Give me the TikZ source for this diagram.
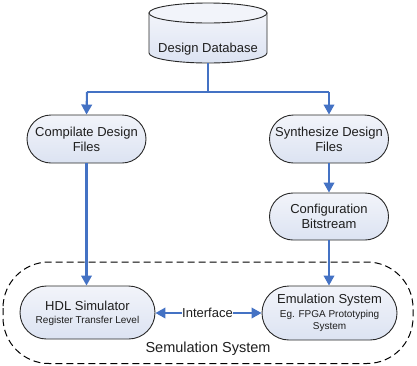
\documentclass[tikz,border=0pt]{standalone}
\usepackage{fontspec}
\setmainfont{Liberation Sans}
\usetikzlibrary{shapes.misc,arrows.meta}
\definecolor{lineblue}{RGB}{68,114,196}
\definecolor{boxtop}{RGB}{242,244,250}
\definecolor{boxbot}{RGB}{220,227,242}
\definecolor{edge}{RGB}{40,40,40}
\definecolor{txt}{RGB}{30,30,30}
\tikzset{
  procbox/.style={rounded rectangle, draw=edge, line width=0.9pt,
    top color=boxtop, bottom color=boxbot, inner sep=0pt,
    align=center, text=txt, font=\fontsize{13}{15}\selectfont},
  flow/.style={draw=lineblue, line width=2.1pt},
  flowarrow/.style={flow, -{Triangle[length=10pt,width=10.5pt]}},
  lbl/.style={text=txt, inner sep=1pt},
  small/.style={font=\fontsize{10}{12}\selectfont}
}
\begin{document}
\begin{tikzpicture}[x=1pt,y=-1pt]
\useasboundingbox (0,0) rectangle (417,365);
% cylinder
\path[draw=edge, line width=0.9pt, top color=boxtop, bottom color=boxbot]
  (149,13) -- (149,53) arc[start angle=180, end angle=360, x radius=59pt, y radius=10pt] -- (267,13) -- cycle;
\path[draw=edge, line width=0.9pt, fill=boxtop] (208,13) ellipse[x radius=59pt, y radius=10pt];
\node[lbl, font=\fontsize{13}{15}\selectfont] (db) at (208,49.5) {Design Database};
\coordinate (dbbot) at (208,63);
\coordinate (split) at (208,92);
\coordinate (lsplit) at (87,92);
\coordinate (rsplit) at (329,92);
% boxes
\node[procbox, minimum width=119pt, minimum height=48pt] (comp) at (86.5,139) {Compilate Design\\Files};
\node[procbox, minimum width=119pt, minimum height=48pt] (synth) at (329,139) {Synthesize Design\\Files};
\node[procbox, minimum width=119pt, minimum height=47pt] (conf) at (329,216.5) {Configuration\\Bitstream};
\node[procbox, minimum width=135pt, minimum height=53pt] (hdl) at (87.5,312.5) {};
\node[lbl, font=\fontsize{13}{15}\selectfont] (hdlt1) at (87.5,306) {HDL Simulator};
\node[lbl, small] (hdlt2) at (87.5,321) {Register Transfer Level};
\node[procbox, minimum width=135pt, minimum height=54pt] (emu) at (329.5,313) {};
\node[lbl, font=\fontsize{13}{15}\selectfont] (emut1) at (329.5,300) {Emulation System};
\node[lbl, small] (emut2) at (329.5,314.5) {Eg. FPGA Prototyping};
\node[lbl, small] (emut3) at (329.5,327) {System};
% connectors
\draw[flow] (dbbot) -- (split);
\draw[flow] (lsplit) -- (rsplit);
\draw[flowarrow] (lsplit) -- (comp.north);
\draw[flowarrow] (rsplit) -- (synth.north);
\draw[flowarrow] (synth.south) -- (conf.north);
\draw[flowarrow] (comp.south) -- (comp.south |- hdl.north);
\draw[flowarrow] (conf.south) -- (conf.south |- emu.north);
% interface
\node[lbl, font=\fontsize{13}{15}\selectfont, inner sep=0.5pt] (iface) at (207.5,313) {Interface};
\draw[flowarrow] (iface.west) -- (hdl.east |- iface.west);
\draw[flowarrow] (iface.east) -- (emu.west |- iface.east);
% simulation system boundary
\draw[black, line width=1pt, dash pattern=on 7pt off 4pt, rounded corners=46pt]
  (3,262) rectangle (413,363.5);
\node[lbl, font=\fontsize{14.5}{17}\selectfont] (sem) at (208,349) {Semulation System};
\end{tikzpicture}
\end{document}
